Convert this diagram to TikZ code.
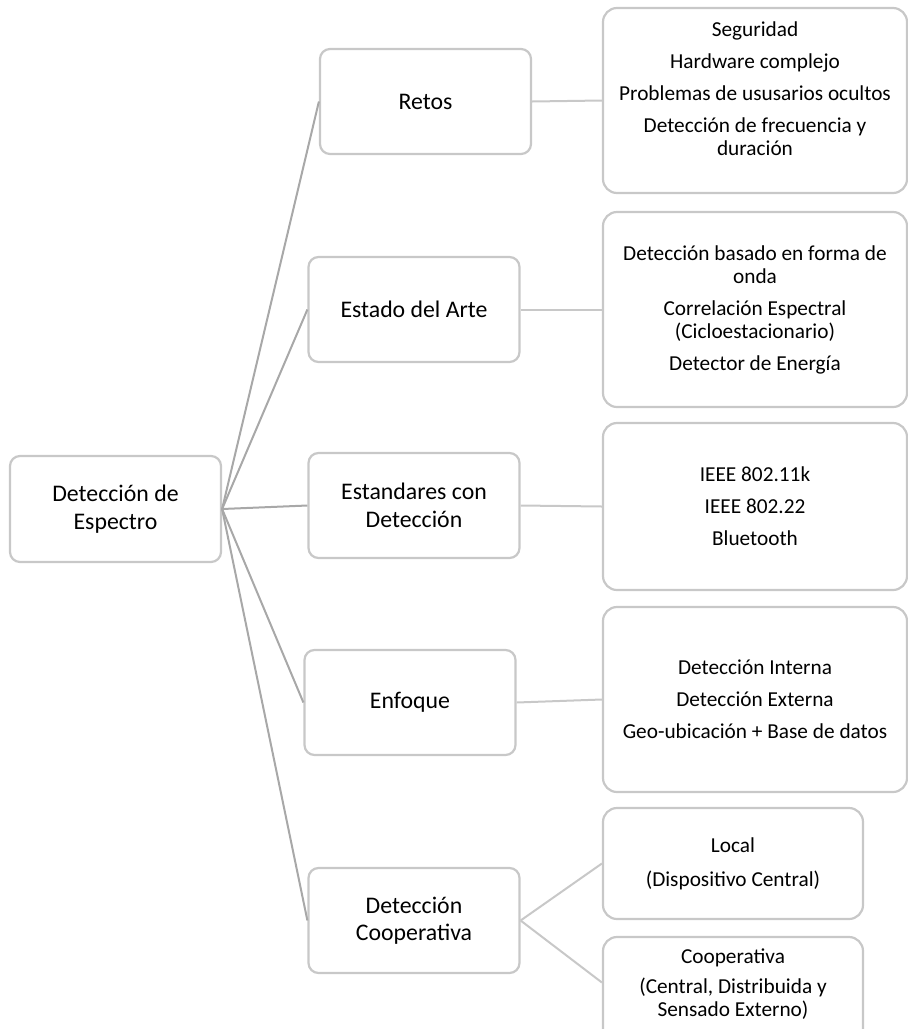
\documentclass[tikz,border=0pt]{standalone}
\usepackage{fontspec}
\setmainfont{Carlito}
\definecolor{bordergray}{HTML}{C8C8C8}
\definecolor{rootgray}{HTML}{A8A8A8}
\definecolor{linegray}{HTML}{C8C8C8}
\tikzset{
  mainbox/.style={draw=bordergray, line width=2.2pt, rounded corners=10pt, fill=white,
    minimum width=211pt, minimum height=105pt, inner sep=0pt, align=center,
    font=\fontsize{23.8}{27.5}\selectfont},
  detbox/.style={draw=bordergray, line width=2.2pt, rounded corners=14pt, fill=white,
    minimum width=304pt, inner sep=0pt, align=center,
    font=\fontsize{21.3}{23}\selectfont},
  rootlink/.style={draw=rootgray, line width=2pt},
  sublink/.style={draw=linegray, line width=2pt},
}
\begin{document}
\begin{tikzpicture}[x=1pt,y=-1pt]
\useasboundingbox (0,0) rectangle (908,1029);
\clip (0,0) rectangle (908,1029);
% root
\node[mainbox, minimum height=106pt] (root) at (115.5,509) {Detección de\\Espectro};
% main branches
\node[mainbox] (retos) at (425.5,101.5) {Retos};
\node[mainbox] (estado) at (414,309.5) {Estado del Arte};
\node[mainbox] (estandares) at (414,505.5) {Estandares con\\Detección};
\node[mainbox] (enfoque) at (410,702.5) {Enfoque};
\node[mainbox] (detcoop) at (414,920.5) {Detección\\Cooperativa};
% detail boxes
\node[detbox, minimum height=185pt] (d1) at (755,100.5)
  {Seguridad\\[9pt]Hardware complejo\\[9pt]Problemas de ususarios ocultos\\[9pt]Detección de frecuencia y\\duración\\[1pt]~};
\node[detbox, minimum height=195pt] (d2) at (755,309.5)
  {Detección basado en forma de\\onda\\[9pt]Correlación Espectral\\(Cicloestacionario)\\[9pt]Detector de Energía};
\node[detbox, minimum height=167pt] (d3) at (755,506.5)
  {IEEE 802.11k\\[9pt]IEEE 802.22\\[9pt]Bluetooth};
\node[detbox, minimum height=185pt] (d4) at (755,699.5)
  {Detección Interna\\[9pt]Detección Externa\\[9pt]Geo-ubicación + Base de datos};
\node[detbox, minimum width=260pt, minimum height=111pt] (local) at (733,863.5)
  {Local\\[11pt](Dispositivo Central)};
\node[detbox, minimum width=260pt, minimum height=111pt] (coop) at (733,992.5)
  {Cooperativa\\[7pt](Central, Distribuida y\\Sensado Externo)\\[-3pt]~};
% connectors
\draw[rootlink] (root.east) -- (retos.west);
\draw[rootlink] (root.east) -- (estado.west);
\draw[rootlink] (root.east) -- (estandares.west);
\draw[rootlink] (root.east) -- (enfoque.west);
\draw[rootlink] (root.east) -- (detcoop.west);
\draw[sublink] (retos.east) -- (d1.west);
\draw[sublink] (estado.east) -- (d2.west);
\draw[sublink] (estandares.east) -- (d3.west);
\draw[sublink] (enfoque.east) -- (d4.west);
\draw[sublink] (detcoop.east) -- (local.west);
\draw[sublink] (detcoop.east) -- ([yshift=10pt]coop.west);
\end{tikzpicture}
\end{document}
